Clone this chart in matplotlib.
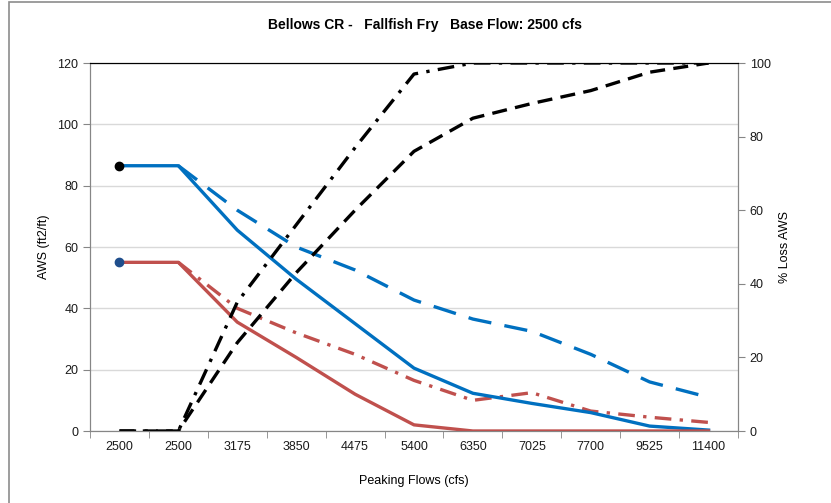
import matplotlib
matplotlib.use("Agg")
import matplotlib.pyplot as plt
from matplotlib.patches import Rectangle
import numpy as np

plt.rcParams['font.family'] = ['Liberation Sans', 'DejaVu Sans']

# data
flows = ['2500', '2500', '3175', '3850', '4475', '5400', '6350', '7025', '7700', '9525', '11400']
aws_blue = [86.5, 86.5, 65.5, 49.5, 35, 20.5, 12.3, 9, 6, 1.6, 0.3]
aws_blue_dash = [86.5, 86.5, 72, 60, 52.5, 42.7, 36.5, 32.5, 25, 16, 11]
aws_red = [55, 55, 35.5, 24, 12, 2, 0, 0, 0, 0, 0]
aws_red_dashdot = [55, 55, 40, 32, 25, 16.5, 10, 12.5, 6.5, 4.5, 2.8]
loss_dashdot = [0, 0, 35, 56, 77, 97, 100, 100, 100, 100, 100]
loss_dash = [0, 0, 24, 43, 60, 76, 85, 89, 92.5, 97.5, 100]

blue = '#0070C0'
red = '#C0504D'
grey = '#868686'

fig = plt.figure(figsize=(8.31, 5.03), dpi=100)
ax = fig.add_axes([90/831, 1-431/503, 648/831, 368/503])
ax2 = ax.twinx()

x = np.arange(len(flows))

# outer chart border (only left and top edges fall inside the picture)
fig.patches.append(Rectangle((9/831, -0.2), 1.2, 1.2 - 2/503, transform=fig.transFigure,
                             fill=False, edgecolor='#8c8c8c', linewidth=1.2))

ax.plot(x[1:], aws_blue_dash[1:], color=blue, lw=2.4, dashes=(7, 4), zorder=3)
ax.plot(x[1:], aws_red_dashdot[1:], color=red, lw=2.4, dashes=(5, 2.5, 1, 2.5), zorder=3)
ax.plot(x, aws_blue, color=blue, lw=2.4, zorder=4)
ax.plot(x, aws_red, color=red, lw=2.4, zorder=4)
ax.plot(x[0], aws_blue[0], 'o', color='black', ms=6, zorder=5)
ax.plot(x[0], aws_red[0], 'o', color='#1F4E8C', ms=6, zorder=5)

ax2.plot(x, loss_dashdot, color='black', lw=2.4, dashes=(5, 2.5, 1, 2.5))
ax2.plot(x, loss_dash, color='black', lw=2.4, dashes=(4.5, 2.5))

ax.set_xlim(-0.5, 10.5)
ax.set_ylim(0, 120)
ax2.set_ylim(0, 100)
ax.set_yticks(range(0, 121, 20))
ax2.set_yticks(range(0, 101, 20))
ax.set_xticks(x)
ax.set_xticklabels(flows)
ax.set_xticks(np.arange(-0.5, 11, 1), minor=True)

ax.grid(axis='y', color='#D9D9D9', lw=1)
ax.set_axisbelow(True)

for a in (ax, ax2):
    for s in ('left', 'right', 'bottom'):
        a.spines[s].set_color(grey)
    a.spines['top'].set_color('black')
    a.spines['top'].set_linewidth(0.8)

ax.tick_params(axis='x', which='major', length=0, labelsize=9, colors='#1a1a1a', pad=7)
ax.tick_params(axis='x', which='minor', length=5, color=grey)
ax.tick_params(axis='y', length=5, color=grey, labelsize=9, labelcolor='#1a1a1a')
ax2.tick_params(axis='y', length=5, color=grey, labelsize=9, labelcolor='#1a1a1a')

ax.set_ylabel('AWS (ft2/ft)', fontsize=9, labelpad=5)
ax2.set_ylabel('% Loss AWS', fontsize=9, labelpad=6)
ax.set_xlabel('Peaking Flows (cfs)', fontsize=9, labelpad=16)

fig.text(0.511, 1-25/503, 'Bellows CR -   Fallfish Fry   Base Flow: 2500 cfs',
         ha='center', va='center', fontsize=10, fontweight='bold')

fig.savefig('out.png', dpi=100)
